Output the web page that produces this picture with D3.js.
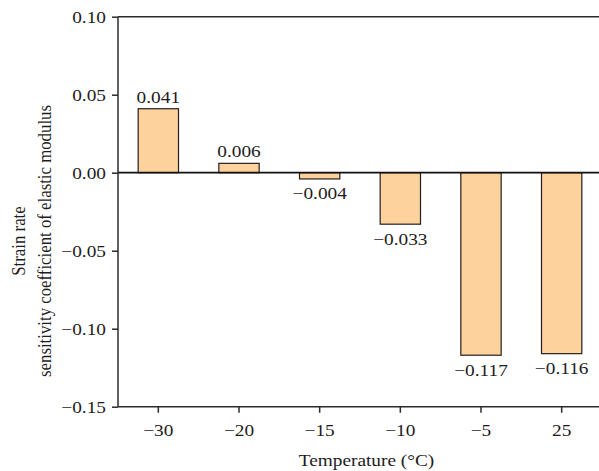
<!DOCTYPE html>
<html>
<head>
<meta charset="utf-8">
<script src="https://cdn.jsdelivr.net/npm/d3@7/dist/d3.min.js"></script>
<style>
  html, body { margin: 0; padding: 0; background: #fff; }
  svg { display: block; }
  text { font-family: "Liberation Serif", "Times New Roman", serif; fill: #1e1c1c; }
</style>
</head>
<body>
<svg id="chart" width="599" height="471"></svg>
<script>
// Temperatures (°C) and the strain rate sensitivity coefficient of elastic modulus
const temperatures = ["−30", "−20", "−15", "−10", "−5", "25"];
const coefficients = [0.041, 0.006, -0.004, -0.033, -0.117, -0.116];
const valueLabels = ["0.041", "0.006", "−0.004", "−0.033", "−0.117", "−0.116"];
const yTicks = [0.10, 0.05, 0.00, -0.05, -0.10, -0.15];
const yTickLabels = ["0.10", "0.05", "0.00", "−0.05", "−0.10", "−0.15"];

const svg = d3.select("#chart");
const W = 599;
const plotLeft = 118, plotTop = 16.7, plotBottom = 406.7;
const fontSize = 16.8;
const widen = 1.15;   // typeface is set slightly wide

// Widen each text element horizontally around its own anchor point
function widenText(sel) {
  sel.each(function () {
    const t = d3.select(this);
    const tx = +t.attr("x") || 0, ty = +t.attr("y") || 0;
    t.attr("x", 0).attr("y", 0)
     .attr("transform", `translate(${tx},${ty}) scale(${widen},1)`);
  });
}

const x = d3.scaleBand()
  .domain(temperatures)
  .range([plotLeft, 602])
  .paddingInner(0.5)
  .paddingOuter(0.25);

const y = d3.scaleLinear()
  .domain([-0.15, 0.10])
  .range([plotBottom, plotTop]);

const axisColor = "#2b2b2b";
const textColor = "#1e1c1c";

// Bars
svg.append("g").selectAll("rect")
  .data(coefficients)
  .join("rect")
  .attr("x", (d, i) => x(temperatures[i]))
  .attr("width", x.bandwidth())
  .attr("y", d => y(Math.max(0, d)))
  .attr("height", d => Math.abs(y(d) - y(0)))
  .attr("fill", "#fed29c")
  .attr("stroke", "#231f20")
  .attr("stroke-width", 1.2);

// Top frame line and zero line
svg.append("line")
  .attr("x1", plotLeft).attr("x2", W)
  .attr("y1", y(0.10)).attr("y2", y(0.10))
  .attr("stroke", axisColor).attr("stroke-width", 1.5);
svg.append("line")
  .attr("x1", plotLeft).attr("x2", W)
  .attr("y1", y(0)).attr("y2", y(0))
  .attr("stroke", "#111").attr("stroke-width", 1.8);

// Y axis
const yAxis = d3.axisLeft(y)
  .tickValues(yTicks)
  .tickFormat((d, i) => yTickLabels[i])
  .tickSize(6)
  .tickPadding(6);
const gy = svg.append("g").attr("transform", `translate(${plotLeft},0)`).call(yAxis);
gy.select(".domain").attr("stroke", axisColor).attr("stroke-width", 1.5)
  .attr("d", `M0,${plotTop}V${plotBottom}`);
gy.selectAll(".tick line").attr("stroke", axisColor).attr("stroke-width", 1.5);
gy.selectAll(".tick text")
  .style("font-family", "'Liberation Serif', serif")
  .style("font-size", fontSize + "px")
  .attr("fill", textColor)
  .call(widenText);

// X axis
const xAxis = d3.axisBottom(x).tickSize(6).tickPadding(11);
const gx = svg.append("g").attr("transform", `translate(0,${plotBottom})`).call(xAxis);
gx.select(".domain").attr("stroke", axisColor).attr("stroke-width", 1.5)
  .attr("d", `M${plotLeft},0H${W}`);
gx.selectAll(".tick line").attr("stroke", axisColor).attr("stroke-width", 1.5);
gx.selectAll(".tick text")
  .style("font-family", "'Liberation Serif', serif")
  .style("font-size", fontSize + "px")
  .attr("fill", textColor)
  .call(widenText);

// Value labels
svg.append("g").selectAll("text")
  .data(coefficients)
  .join("text")
  .attr("x", (d, i) => x(temperatures[i]) + x.bandwidth() / 2)
  .attr("y", d => d >= 0 ? y(d) - 6 : y(d) + 20.5)
  .attr("text-anchor", "middle")
  .style("font-size", fontSize + "px")
  .text((d, i) => valueLabels[i])
  .call(widenText);

// Axis titles
svg.append("text")
  .attr("x", 366.5)
  .attr("y", 466)
  .attr("text-anchor", "middle")
  .style("font-size", fontSize + "px")
  .text("Temperature (°C)")
  .call(widenText);

const yTitle = svg.append("text")
  .attr("transform", `translate(25,241) scale(${widen},1) rotate(-90)`)
  .attr("text-anchor", "middle")
  .style("font-size", fontSize + "px");
yTitle.append("tspan").attr("x", 0).attr("dy", 0).text("Strain rate");
yTitle.append("tspan").attr("x", 0).attr("dy", 23).text("sensitivity coefficient of elastic modulus");
</script>
</body>
</html>
